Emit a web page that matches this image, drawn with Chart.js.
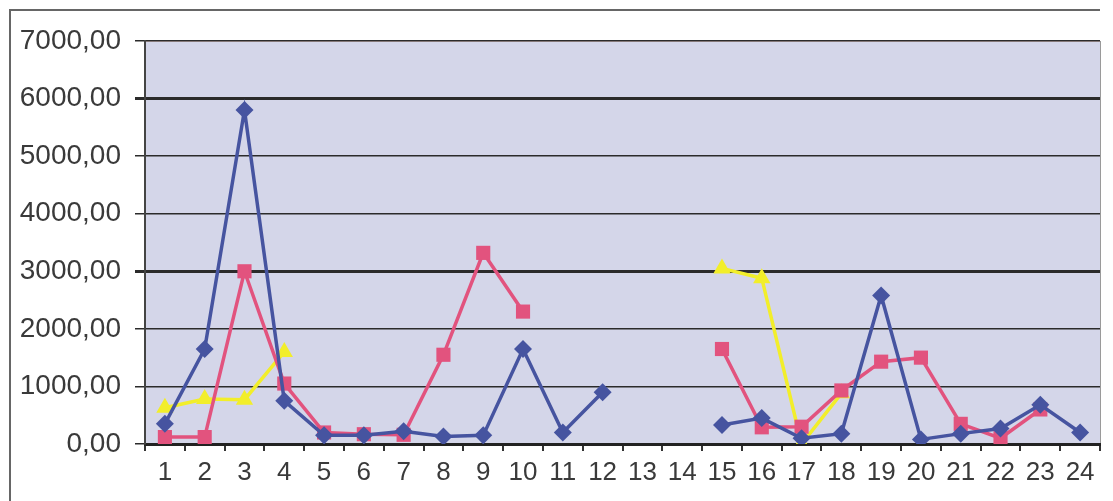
<!DOCTYPE html>
<html>
<head>
<meta charset="utf-8">
<script src="https://cdn.jsdelivr.net/npm/chart.js@4"></script>
<style>
  html, body { margin: 0; padding: 0; background: #fff; }
  #wrap { width: 1113px; height: 501px; }
</style>
</head>
<body>
<div id="wrap"><canvas id="chart" width="1113" height="501"></canvas></div>
<script>
// categories and series
const labels = ["1","2","3","4","5","6","7","8","9","10","11","12","13","14","15","16","17","18","19","20","21","22","23","24"];
const blueSeries = [350, 1650, 5800, 750, 150, 150, 220, 130, 150, 1650, 200, 900, null, null, 330, 450, 100, 180, 2580, 80, 180, 270, 680, 200];
const pinkSeries = [120, 120, 3000, 1050, 200, 170, 160, 1550, 3320, 2300, null, null, null, null, 1650, 290, 300, 930, 1430, 1500, 350, 100, 600, null];
const yellowSeries = [630, 780, 770, 1600, null, null, null, null, null, null, null, null, null, null, 3050, 2880, 0, 880, null, null, null, null, null, null];

// fond du graphique + cadre extérieur
const backdrop = {
  id: "backdrop",
  beforeDraw(chart) {
    const { ctx, chartArea: a } = chart;
    ctx.save();
    ctx.fillStyle = "#d4d6e9";
    ctx.fillRect(a.left, a.top, a.right - a.left, a.bottom - a.top);
    ctx.strokeStyle = "#e0c8c8";
    ctx.lineWidth = 1;
    ctx.beginPath();
    ctx.moveTo(a.left, a.top + 0.5);
    ctx.lineTo(a.right, a.top + 0.5);
    ctx.stroke();
    ctx.strokeStyle = "#9a9a9a";
    ctx.beginPath();
    ctx.moveTo(a.right + 0.5, a.top);
    ctx.lineTo(a.right + 0.5, a.bottom);
    ctx.stroke();
    ctx.strokeStyle = "#666";
    ctx.lineWidth = 2;
    ctx.beginPath();
    ctx.moveTo(10, 501);
    ctx.lineTo(10, 10);
    ctx.lineTo(1100, 10);
    ctx.stroke();
    ctx.restore();
  }
};

function makeSet(data, color, style, radius) {
  return {
    data: data,
    borderColor: color,
    backgroundColor: color,
    borderWidth: 3.5,
    pointStyle: style,
    pointRadius: radius,
    pointBorderWidth: 0,
    spanGaps: false,
    tension: 0
  };
}

new Chart(document.getElementById("chart"), {
  type: "line",
  data: {
    labels: labels,
    datasets: [
      makeSet(blueSeries, "#4654a0", "rectRot", 9),
      makeSet(pinkSeries, "#e2537e", "rect", 10),
      makeSet(yellowSeries, "#f2ee2a", "triangle", 10)
    ]
  },
  options: {
    responsive: false,
    animation: false,
    layout: { padding: { left: 10, top: 41, right: 13, bottom: 5 } },
    plugins: { legend: { display: false }, tooltip: { enabled: false } },
    scales: {
      x: {
        offset: true,
        grid: {
          offset: true,
          drawOnChartArea: false,
          drawTicks: true,
          tickLength: 7,
          color: "#333",
          lineWidth: 2
        },
        border: { display: true, color: "#222", width: 3 },
        ticks: {
          color: "#3a3a3a",
          padding: 6,
          maxRotation: 0,
          autoSkip: false,
          font: { family: "Liberation Sans", size: 26 }
        },
        afterFit(scale) { scale.height = 52; }
      },
      y: {
        min: 0,
        max: 7000,
        ticks: {
          stepSize: 1000,
          color: "#3a3a3a",
          padding: 14,
          font: { family: "Liberation Sans", size: 28 },
          callback: (v) => v.toFixed(2).replace(".", ",")
        },
        grid: {
          color: "#2b2b2b",
          tickLength: 10,
          lineWidth: (c) => (c.tick && (c.tick.value === 3000 || c.tick.value === 6000) ? 3 : 1.5)
        },
        border: { display: true, color: "#444", width: 2 },
        afterFit(scale) { scale.width = 135; }
      }
    }
  },
  plugins: [backdrop]
});
</script>
</body>
</html>
